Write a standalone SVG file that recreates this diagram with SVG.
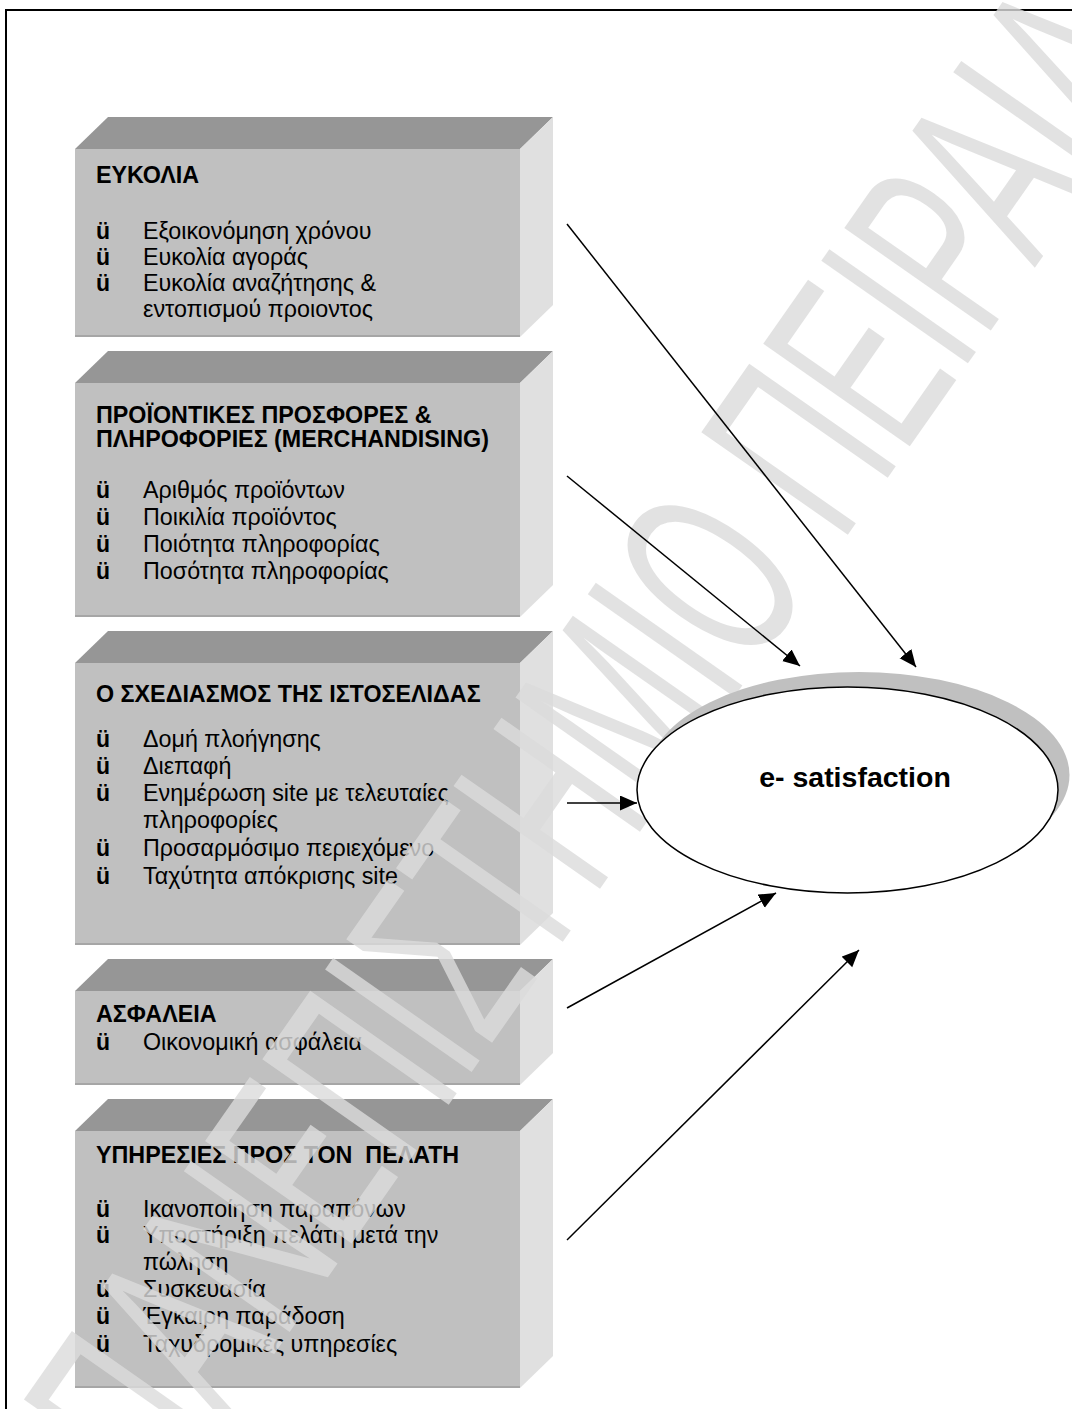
<svg xmlns="http://www.w3.org/2000/svg" width="1072" height="1409" viewBox="0 0 1072 1409">
  <style>
    .top { fill: #969696; }
    .side { fill: #e0e0e0; }
    .front { fill: #c0c0c0; }
    .edge { stroke: #a6a6a6; stroke-width: 2; }
    .h { font-family: "Liberation Sans", Arial, sans-serif; font-size: 23.3px; font-weight: bold; fill: #000; }
    .t { font-family: "Liberation Sans", Arial, sans-serif; font-size: 23.3px; fill: #000; }
    .b { font-family: "Liberation Sans", Arial, sans-serif; font-size: 23px; font-weight: bold; fill: #000; }
    .conn { stroke: #000; stroke-width: 1.5; fill: none; marker-end: url(#arrow); }
    .wm { font-family: "Liberation Sans", Arial, sans-serif; font-size: 260px; fill: #dcdcdc; opacity: 0.8; }
  </style>
  <defs>
    <marker id="arrow" markerUnits="userSpaceOnUse" markerWidth="18" markerHeight="16" refX="17" refY="7.5" orient="auto">
      <path d="M0,0 L17,7.5 L0,15 Z" fill="#000"/>
    </marker>
  </defs>

  <rect width="1072" height="1409" fill="#fff"/>
  <!-- page frame (runs off the right and bottom edges) -->
  <path d="M6,1409 V10 H1072" fill="none" stroke="#000" stroke-width="2"/>

  <!-- factor blocks -->
  <g id="box-eukolia">
    <polygon class="top" points="75,149 108,117 553,117 520,149"/>
    <polygon class="side" points="520,149 553,117 553,305 520,337"/>
    <rect class="front" x="75" y="149" width="445" height="188"/>
    <line class="edge" x1="75" y1="336" x2="520" y2="336"/>
    <text class="h" x="96" y="183">ΕΥΚΟΛΙΑ</text>
    <text class="b" x="96" y="239">ü</text><text class="t" x="143" y="239">Εξοικονόμηση χρόνου</text>
    <text class="b" x="96" y="265">ü</text><text class="t" x="143" y="265">Ευκολία αγοράς</text>
    <text class="b" x="96" y="291">ü</text><text class="t" x="143" y="291">Ευκολία αναζήτησης &amp;</text>
    <text class="t" x="143" y="317">εντοπισμού προιοντος</text>
  </g>

  <g id="box-merchandising">
    <polygon class="top" points="75,383 108,351 553,351 520,383"/>
    <polygon class="side" points="520,383 553,351 553,585 520,617"/>
    <rect class="front" x="75" y="383" width="445" height="234"/>
    <line class="edge" x1="75" y1="616" x2="520" y2="616"/>
    <text class="h" x="96" y="423">ΠΡΟΪΟΝΤΙΚΕΣ ΠΡΟΣΦΟΡΕΣ &amp;</text>
    <text class="h" x="96" y="447">ΠΛΗΡΟΦΟΡΙΕΣ (MERCHANDISING)</text>
    <text class="b" x="96" y="498">ü</text><text class="t" x="143" y="498">Αριθμός προϊόντων</text>
    <text class="b" x="96" y="525">ü</text><text class="t" x="143" y="525">Ποικιλία προϊόντος</text>
    <text class="b" x="96" y="552">ü</text><text class="t" x="143" y="552">Ποιότητα πληροφορίας</text>
    <text class="b" x="96" y="579">ü</text><text class="t" x="143" y="579">Ποσότητα πληροφορίας</text>
  </g>

  <g id="box-design">
    <polygon class="top" points="75,663 108,631 553,631 520,663"/>
    <polygon class="side" points="520,663 553,631 553,913 520,945"/>
    <rect class="front" x="75" y="663" width="445" height="282"/>
    <line class="edge" x1="75" y1="944" x2="520" y2="944"/>
    <text class="h" x="96" y="702">Ο ΣΧΕΔΙΑΣΜΟΣ ΤΗΣ ΙΣΤΟΣΕΛΙΔΑΣ</text>
    <text class="b" x="96" y="747">ü</text><text class="t" x="143" y="747">Δομή πλοήγησης</text>
    <text class="b" x="96" y="774">ü</text><text class="t" x="143" y="774">Διεπαφή</text>
    <text class="b" x="96" y="801">ü</text><text class="t" x="143" y="801">Ενημέρωση site με τελευταίες</text>
    <text class="t" x="143" y="828">πληροφορίες</text>
    <text class="b" x="96" y="856">ü</text><text class="t" x="143" y="856">Προσαρμόσιμο περιεχόμενο</text>
    <text class="b" x="96" y="884">ü</text><text class="t" x="143" y="884">Ταχύτητα απόκρισης site</text>
  </g>

  <g id="box-security">
    <polygon class="top" points="75,991 108,959 553,959 520,991"/>
    <polygon class="side" points="520,991 553,959 553,1053 520,1085"/>
    <rect class="front" x="75" y="991" width="445" height="94"/>
    <line class="edge" x1="75" y1="1084" x2="520" y2="1084"/>
    <text class="h" x="96" y="1022">ΑΣΦΑΛΕΙΑ</text>
    <text class="b" x="96" y="1050">ü</text><text class="t" x="143" y="1050">Οικονομική ασφάλεια</text>
  </g>

  <g id="box-services">
    <polygon class="top" points="75,1131 108,1099 553,1099 520,1131"/>
    <polygon class="side" points="520,1131 553,1099 553,1356 520,1388"/>
    <rect class="front" x="75" y="1131" width="445" height="257"/>
    <line class="edge" x1="75" y1="1387" x2="520" y2="1387"/>
    <text class="h" x="96" y="1163" xml:space="preserve">ΥΠΗΡΕΣΙΕΣ ΠΡΟΣ ΤΟΝ  ΠΕΛΑΤΗ</text>
    <text class="b" x="96" y="1217">ü</text><text class="t" x="143" y="1217">Ικανοποίηση παραπόνων</text>
    <text class="b" x="96" y="1243">ü</text><text class="t" x="143" y="1243">Υποστήριξη πελάτη μετά την</text>
    <text class="t" x="143" y="1270">πώληση</text>
    <text class="b" x="96" y="1297">ü</text><text class="t" x="143" y="1297">Συσκευασία</text>
    <text class="b" x="96" y="1324">ü</text><text class="t" x="143" y="1324">Έγκαιρη παράδοση</text>
    <text class="b" x="96" y="1352">ü</text><text class="t" x="143" y="1352">Ταχυδρομικές υπηρεσίες</text>
  </g>

  <!-- diagonal watermark -->
  <text class="wm" transform="translate(592,738) rotate(-55)" x="0" y="93" text-anchor="middle" textLength="1760" lengthAdjust="spacingAndGlyphs">ΠΑΝΕΠΙΣΤΗΜΙΟ ΠΕΙΡΑΙΑ</text>

  <!-- outcome node -->
  <g id="node-esatisfaction">
    <ellipse cx="859" cy="775" rx="210.5" ry="103" fill="#c0c0c0"/>
    <ellipse cx="847.5" cy="790" rx="210.5" ry="103" fill="#fff" stroke="#000" stroke-width="1.5"/>
    <text x="855" y="787" text-anchor="middle" font-family="Liberation Sans, Arial, sans-serif" font-size="28.5" font-weight="bold">e- satisfaction</text>
  </g>

  <!-- connectors -->
  <g id="connectors">
    <line class="conn" x1="567" y1="224" x2="916" y2="667"/>
    <line class="conn" x1="567" y1="476" x2="800" y2="666"/>
    <line class="conn" x1="567" y1="803" x2="637" y2="803"/>
    <line class="conn" x1="567" y1="1008" x2="776" y2="893"/>
    <line class="conn" x1="567" y1="1240" x2="859" y2="950"/>
  </g>
</svg>
